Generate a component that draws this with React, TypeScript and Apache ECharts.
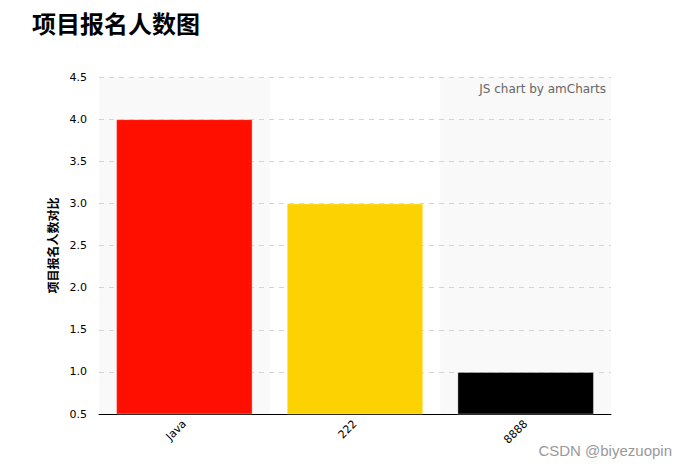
import React, { useEffect, useRef } from 'react';
import * as echarts from 'echarts';

// chart data
const categories = ['Java', '222', '8888'];
const counts = [4, 3, 1];
const barColors = ['#ff0f00', '#fcd202', '#000000'];
const yTicks = { min: 0.5, max: 4.5, step: 0.5 };

const App: React.FC = () => {
  const chartRef = useRef<HTMLDivElement>(null);

  useEffect(() => {
    if (!chartRef.current) return;
    const chart = echarts.init(chartRef.current, undefined, { renderer: 'svg' });

    chart.setOption({
      animation: false,
      title: {
        text: '项目报名人数图',
        left: 27,
        top: 5,
        textStyle: {
          fontSize: 24,
          fontWeight: 'bold',
          color: '#000',
          fontFamily: 'Noto Sans CJK SC',
        },
      },
      grid: { left: 99, right: 75, top: 77, bottom: 54 },
      xAxis: {
        type: 'category',
        data: categories,
        z: 0,
        axisLine: { lineStyle: { color: '#000', width: 1 } },
        axisTick: { alignWithLabel: true, length: 5, lineStyle: { color: '#000' } },
        axisLabel: {
          rotate: 45,
          fontSize: 11,
          color: '#000',
          fontFamily: 'DejaVu Sans',
          margin: 8,
        },
        splitLine: { show: false },
        splitArea: {
          show: true,
          areaStyle: { color: ['#f9f9f9', 'rgba(255,255,255,0)'] },
        },
      },
      yAxis: {
        type: 'value',
        z: 1,
        min: yTicks.min,
        max: yTicks.max,
        interval: yTicks.step,
        name: '项目报名人数对比',
        nameLocation: 'middle',
        nameGap: 38,
        nameTextStyle: {
          fontSize: 12,
          fontWeight: 'bold',
          color: '#000',
          fontFamily: 'Noto Sans CJK SC',
        },
        axisLine: { show: false },
        axisTick: { show: false },
        axisLabel: {
          fontSize: 11,
          color: '#000',
          fontFamily: 'DejaVu Sans',
          margin: 12,
          formatter: (v: number) => v.toFixed(1),
        },
        splitLine: {
          showMinLine: false,
          lineStyle: { color: '#d4d4d4', type: [5, 5] },
        },
      },
      series: [
        {
          type: 'bar',
          z: 2,
          barWidth: '80%',
          data: counts.map((v, i) => ({
            value: v,
            itemStyle: {
              color: barColors[i],
              borderColor: 'rgba(255,255,255,0.35)',
              borderWidth: 1,
            },
          })),
        },
      ],
      graphic: [
        {
          type: 'text',
          x: 606,
          y: 83,
          z: 100,
          style: {
            text: 'JS chart by amCharts',
            fill: '#666',
            fontSize: 12,
            fontFamily: 'DejaVu Sans',
            align: 'right',
            verticalAlign: 'top',
          },
        },
        {
          type: 'text',
          x: 672,
          y: 443,
          z: 100,
          style: {
            text: 'CSDN @biyezuopin',
            fill: '#999',
            fontSize: 15,
            fontFamily: 'Liberation Sans',
            align: 'right',
            verticalAlign: 'top',
          },
        },
      ],
    });

    return () => {
      chart.dispose();
    };
  }, []);

  return (
    <div
      ref={chartRef}
      style={{ position: 'absolute', left: 0, top: 0, width: 686, height: 468, background: '#fff' }}
    />
  );
};

export default App;
